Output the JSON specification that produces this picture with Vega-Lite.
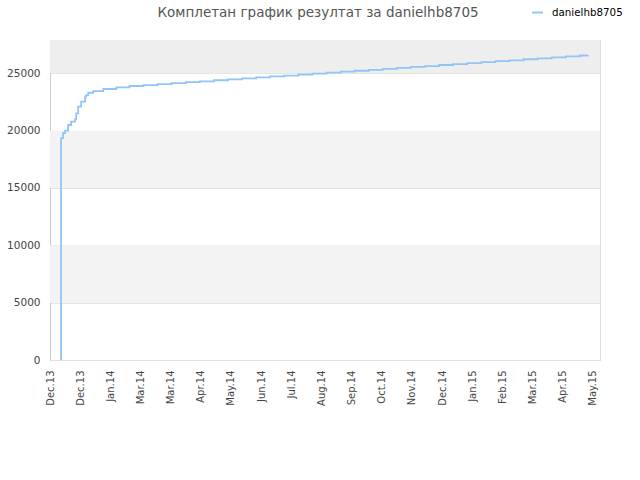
{
  "$schema": "https://vega.github.io/schema/vega-lite/v6.json",
  "width": 550,
  "height": 320,
  "autosize": {"type": "none"},
  "padding": {"left": 50, "top": 40, "right": 40, "bottom": 120},
  "background": "white",
  "config": {
    "font": "DejaVu Sans",
    "view": {"stroke": "#dddddd", "strokeWidth": 1}
  },
  "title": {
    "text": "Комплетан график резултат за danielhb8705",
    "fontSize": 13.5,
    "fontWeight": "normal",
    "color": "#555555",
    "anchor": "middle",
    "dx": -7,
    "offset": -13,
    "font": "DejaVu Sans"
  },
  "datasets": {
    "bands": [
      {"lo": 5000, "hi": 10000},
      {"lo": 15000, "hi": 20000}
    ],
    "top": [
      {"lo": 25000, "hi": 27900}
    ],
    "score": [
      {"date": "2013-12-12", "value": 0, "user": "danielhb8705"},
      {"date": "2013-12-12", "value": 19350, "user": "danielhb8705"},
      {"date": "2013-12-14", "value": 19790, "user": "danielhb8705"},
      {"date": "2013-12-16", "value": 19990, "user": "danielhb8705"},
      {"date": "2013-12-19", "value": 20490, "user": "danielhb8705"},
      {"date": "2013-12-22", "value": 20780, "user": "danielhb8705"},
      {"date": "2013-12-26", "value": 21010, "user": "danielhb8705"},
      {"date": "2013-12-27", "value": 21500, "user": "danielhb8705"},
      {"date": "2013-12-29", "value": 22090, "user": "danielhb8705"},
      {"date": "2014-01-01", "value": 22520, "user": "danielhb8705"},
      {"date": "2014-01-05", "value": 22960, "user": "danielhb8705"},
      {"date": "2014-01-06", "value": 23100, "user": "danielhb8705"},
      {"date": "2014-01-08", "value": 23300, "user": "danielhb8705"},
      {"date": "2014-01-13", "value": 23450, "user": "danielhb8705"},
      {"date": "2014-01-23", "value": 23630, "user": "danielhb8705"},
      {"date": "2014-02-05", "value": 23770, "user": "danielhb8705"},
      {"date": "2014-02-18", "value": 23890, "user": "danielhb8705"},
      {"date": "2014-03-04", "value": 23970, "user": "danielhb8705"},
      {"date": "2014-03-18", "value": 24050, "user": "danielhb8705"},
      {"date": "2014-04-01", "value": 24140, "user": "danielhb8705"},
      {"date": "2014-04-15", "value": 24220, "user": "danielhb8705"},
      {"date": "2014-04-29", "value": 24300, "user": "danielhb8705"},
      {"date": "2014-05-13", "value": 24390, "user": "danielhb8705"},
      {"date": "2014-05-27", "value": 24470, "user": "danielhb8705"},
      {"date": "2014-06-10", "value": 24550, "user": "danielhb8705"},
      {"date": "2014-06-24", "value": 24640, "user": "danielhb8705"},
      {"date": "2014-07-08", "value": 24720, "user": "danielhb8705"},
      {"date": "2014-07-22", "value": 24800, "user": "danielhb8705"},
      {"date": "2014-08-05", "value": 24890, "user": "danielhb8705"},
      {"date": "2014-08-19", "value": 24970, "user": "danielhb8705"},
      {"date": "2014-09-02", "value": 25050, "user": "danielhb8705"},
      {"date": "2014-09-16", "value": 25140, "user": "danielhb8705"},
      {"date": "2014-09-30", "value": 25220, "user": "danielhb8705"},
      {"date": "2014-10-14", "value": 25300, "user": "danielhb8705"},
      {"date": "2014-10-28", "value": 25390, "user": "danielhb8705"},
      {"date": "2014-11-11", "value": 25470, "user": "danielhb8705"},
      {"date": "2014-11-25", "value": 25550, "user": "danielhb8705"},
      {"date": "2014-12-09", "value": 25630, "user": "danielhb8705"},
      {"date": "2014-12-23", "value": 25720, "user": "danielhb8705"},
      {"date": "2015-01-06", "value": 25800, "user": "danielhb8705"},
      {"date": "2015-01-20", "value": 25880, "user": "danielhb8705"},
      {"date": "2015-02-03", "value": 25970, "user": "danielhb8705"},
      {"date": "2015-02-17", "value": 26050, "user": "danielhb8705"},
      {"date": "2015-03-03", "value": 26130, "user": "danielhb8705"},
      {"date": "2015-03-17", "value": 26220, "user": "danielhb8705"},
      {"date": "2015-03-31", "value": 26300, "user": "danielhb8705"},
      {"date": "2015-04-14", "value": 26380, "user": "danielhb8705"},
      {"date": "2015-04-28", "value": 26470, "user": "danielhb8705"},
      {"date": "2015-05-12", "value": 26550, "user": "danielhb8705"},
      {"date": "2015-05-20", "value": 26600, "user": "danielhb8705"}
    ]
  },
  "layer": [
    {
      "data": {"name": "bands"},
      "mark": {"type": "rect", "color": "#f3f3f3"},
      "encoding": {
        "y": {"field": "lo", "type": "quantitative"},
        "y2": {"field": "hi"}
      }
    },
    {
      "data": {"name": "top"},
      "mark": {"type": "rect", "color": "#eeeeee"},
      "encoding": {
        "y": {"field": "lo", "type": "quantitative"},
        "y2": {"field": "hi"}
      }
    },
    {
      "data": {"name": "score"},
      "mark": {"type": "line", "interpolate": "step-after", "strokeWidth": 1.8},
      "encoding": {
        "x": {
          "field": "date",
          "type": "temporal",
          "scale": {
            "type": "utc",
            "domain": [
              {"year": 2013, "month": 12, "date": 1, "utc": true},
              {"year": 2015, "month": 6, "date": 1, "utc": true}
            ]
          },
          "axis": {
            "title": null,
            "grid": false,
            "ticks": false,
            "domain": false,
            "labelAngle": -90,
            "labelPadding": 10,
            "labelFontSize": 10,
            "labelColor": "#444444",
            "labelFont": "DejaVu Sans",
            "format": "%b.%y",
            "labelOverlap": false,
            "values": [
              {"year": 2013, "month": 12, "date": 1, "utc": true},
              {"year": 2013, "month": 12, "date": 31, "utc": true},
              {"year": 2014, "month": 1, "date": 30, "utc": true},
              {"year": 2014, "month": 3, "date": 1, "utc": true},
              {"year": 2014, "month": 3, "date": 31, "utc": true},
              {"year": 2014, "month": 4, "date": 30, "utc": true},
              {"year": 2014, "month": 5, "date": 30, "utc": true},
              {"year": 2014, "month": 6, "date": 29, "utc": true},
              {"year": 2014, "month": 7, "date": 29, "utc": true},
              {"year": 2014, "month": 8, "date": 28, "utc": true},
              {"year": 2014, "month": 9, "date": 27, "utc": true},
              {"year": 2014, "month": 10, "date": 27, "utc": true},
              {"year": 2014, "month": 11, "date": 26, "utc": true},
              {"year": 2014, "month": 12, "date": 26, "utc": true},
              {"year": 2015, "month": 1, "date": 25, "utc": true},
              {"year": 2015, "month": 2, "date": 24, "utc": true},
              {"year": 2015, "month": 3, "date": 26, "utc": true},
              {"year": 2015, "month": 4, "date": 25, "utc": true},
              {"year": 2015, "month": 5, "date": 25, "utc": true}
            ]
          }
        },
        "y": {
          "field": "value",
          "type": "quantitative",
          "scale": {"domain": [0, 27900], "nice": false, "zero": true},
          "axis": {
            "title": null,
            "values": [0, 5000, 10000, 15000, 20000, 25000],
            "format": "d",
            "grid": true,
            "gridColor": "#e3e3e3",
            "ticks": false,
            "domainColor": "#cccccc",
            "labelPadding": 10,
            "labelFontSize": 10.5,
            "labelColor": "#444444",
            "labelFont": "DejaVu Sans"
          }
        },
        "color": {
          "field": "user",
          "type": "nominal",
          "scale": {"range": ["#92c5f7"]},
          "legend": {
            "title": null,
            "orient": "none",
            "legendX": 481,
            "legendY": -34,
            "padding": 0,
            "symbolType": "stroke",
            "symbolSize": 121,
            "symbolStrokeWidth": 2,
            "labelFontSize": 10.3,
            "labelColor": "#000000",
            "labelFont": "DejaVu Sans",
            "labelOffset": 8
          }
        }
      }
    }
  ]
}
